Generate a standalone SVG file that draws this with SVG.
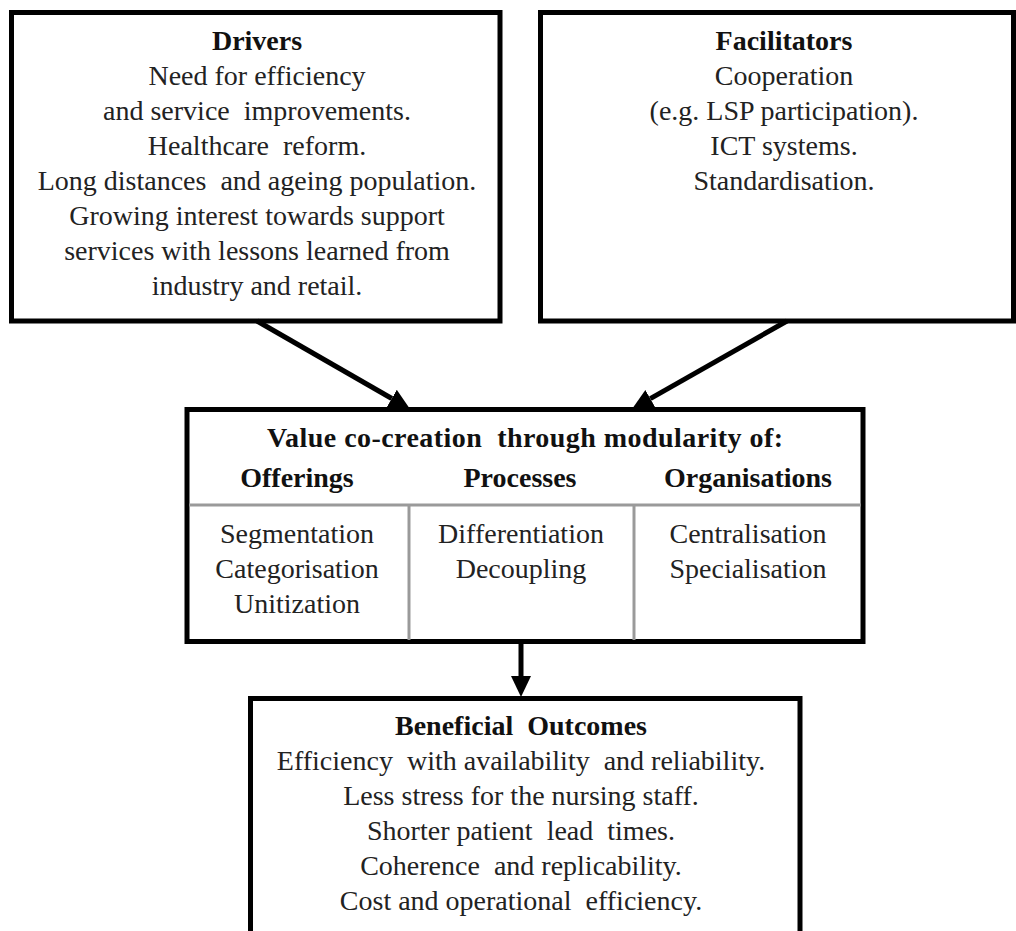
<svg xmlns="http://www.w3.org/2000/svg" width="1016" height="931" viewBox="0 0 1016 931" xml:space="preserve">
<style>
.box{fill:#fff;stroke:#000;stroke-width:5}
.div{stroke:#9a9a9a;stroke-width:3;fill:none}
.t{font-family:"Liberation Serif","Times New Roman",serif;font-size:28px;fill:#222;text-anchor:middle;white-space:pre}
.b{font-weight:bold;fill:#111}
.conn{stroke:#000;stroke-width:5;fill:none;marker-end:url(#ah)}
</style>
<defs>
<marker id="ah" markerUnits="userSpaceOnUse" markerWidth="22" markerHeight="22" refX="0" refY="11" orient="auto">
<path d="M0,1 L21,11 L0,21 z" fill="#000"/>
</marker>
</defs>
<rect width="1016" height="931" fill="#fff"/>
<g id="drivers">
<rect class="box" x="11.5" y="12.5" width="488.5" height="308.5"/>
<text class="t b" x="257" y="50">Drivers</text>
<text class="t" x="257" y="85">Need for efficiency</text>
<text class="t" x="257" y="120">and service  improvements.</text>
<text class="t" x="257" y="155">Healthcare  reform.</text>
<text class="t" x="257" y="190">Long distances  and ageing population.</text>
<text class="t" x="257" y="225">Growing interest towards support</text>
<text class="t" x="257" y="260">services with lessons learned from</text>
<text class="t" x="257" y="295">industry and retail.</text>
</g>
<g id="facilitators">
<rect class="box" x="540.5" y="12.5" width="473" height="308.5"/>
<text class="t b" x="784" y="50">Facilitators</text>
<text class="t" x="784" y="85">Cooperation</text>
<text class="t" x="784" y="120">(e.g. LSP participation).</text>
<text class="t" x="784" y="155">ICT systems.</text>
<text class="t" x="784" y="190">Standardisation.</text>
</g>
<g id="value-co-creation">
<rect class="box" x="187" y="409.5" width="676" height="232"/>
<line class="div" x1="189" y1="505" x2="861" y2="505"/>
<line class="div" x1="409" y1="505" x2="409" y2="640"/>
<line class="div" x1="634" y1="505" x2="634" y2="640"/>
<text class="t b" x="525" y="447" textLength="516" lengthAdjust="spacing">Value co-creation  through modularity of:</text>
<text class="t b" x="297" y="487">Offerings</text>
<text class="t b" x="520" y="487">Processes</text>
<text class="t b" x="748" y="487">Organisations</text>
<text class="t" x="297" y="543">Segmentation</text>
<text class="t" x="297" y="578">Categorisation</text>
<text class="t" x="297" y="613">Unitization</text>
<text class="t" x="521" y="543">Differentiation</text>
<text class="t" x="521" y="578">Decoupling</text>
<text class="t" x="748" y="543">Centralisation</text>
<text class="t" x="748" y="578">Specialisation</text>
</g>
<g id="outcomes">
<rect class="box" x="250.5" y="698.5" width="549.5" height="260"/>
<text class="t b" x="521" y="735">Beneficial  Outcomes</text>
<text class="t" x="521" y="770">Efficiency  with availability  and reliability.</text>
<text class="t" x="521" y="805">Less stress for the nursing staff.</text>
<text class="t" x="521" y="840">Shorter patient  lead  times.</text>
<text class="t" x="521" y="875">Coherence  and replicability.</text>
<text class="t" x="521" y="910">Cost and operational  efficiency.</text>
</g>
<g id="connectors">
<line class="conn" x1="257" y1="321" x2="391.8" y2="398.5"/>
<line class="conn" x1="787" y1="321" x2="650.3" y2="398.6"/>
<line class="conn" x1="521" y1="642" x2="521" y2="676"/>
</g>
</svg>
